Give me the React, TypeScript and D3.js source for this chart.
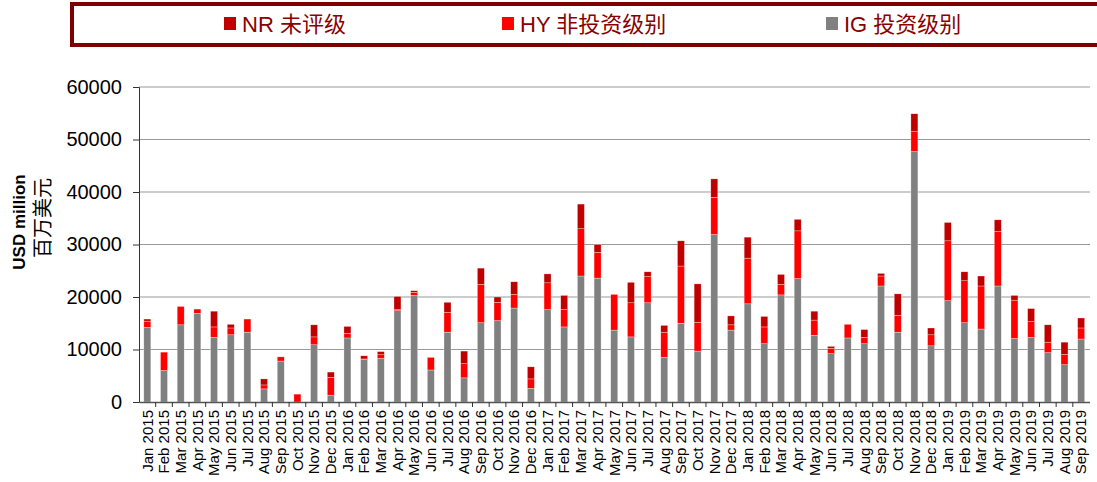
import { useEffect, useRef } from 'react';
import * as d3 from 'd3';

// months Jan 2015 .. Sep 2019
const months = [
  'Jan 2015', 'Feb 2015', 'Mar 2015', 'Apr 2015', 'May 2015', 'Jun 2015', 'Jul 2015', 'Aug 2015', 'Sep 2015', 'Oct 2015', 'Nov 2015', 'Dec 2015',
  'Jan 2016', 'Feb 2016', 'Mar 2016', 'Apr 2016', 'May 2016', 'Jun 2016', 'Jul 2016', 'Aug 2016', 'Sep 2016', 'Oct 2016', 'Nov 2016', 'Dec 2016',
  'Jan 2017', 'Feb 2017', 'Mar 2017', 'Apr 2017', 'May 2017', 'Jun 2017', 'Jul 2017', 'Aug 2017', 'Sep 2017', 'Oct 2017', 'Nov 2017', 'Dec 2017',
  'Jan 2018', 'Feb 2018', 'Mar 2018', 'Apr 2018', 'May 2018', 'Jun 2018', 'Jul 2018', 'Aug 2018', 'Sep 2018', 'Oct 2018', 'Nov 2018', 'Dec 2018',
  'Jan 2019', 'Feb 2019', 'Mar 2019', 'Apr 2019', 'May 2019', 'Jun 2019', 'Jul 2019', 'Aug 2019', 'Sep 2019',
];

const igValues = [
  14200, 6000, 14700, 16900, 12300, 12800, 13300, 2500, 7800, 0, 10900, 1300,
  12200, 8100, 8300, 17400, 20300, 6100, 13300, 4600, 15100, 15500, 17900, 2600,
  17600, 14300, 24000, 23600, 13700, 12400, 18900, 8500, 15000, 9700, 31900, 13700,
  18700, 11100, 20400, 23500, 12700, 9200, 12200, 11100, 22100, 13300, 47700, 10700,
  19300, 15100, 13900, 22100, 12100, 12300, 9400, 7100, 12000,
];

const hyValues = [
  1200, 3500, 3500, 800, 2000, 1300, 2500, 750, 800, 1500, 1500, 3400,
  900, 100, 700, 200, 600, 2400, 3800, 2700, 7300, 3500, 2600, 1800,
  5100, 3300, 9000, 4900, 6800, 6500, 5000, 4800, 10900, 5500, 7100, 1000,
  8700, 3200, 2000, 9100, 2900, 1000, 2600, 1200, 1900, 3200, 3800, 2100,
  11400, 8000, 8200, 10400, 7300, 3000, 2000, 2000, 2100,
];

const nrValues = [
  400, 0, 0, 0, 3000, 700, 0, 1150, 0, 0, 2300, 1000,
  1300, 600, 600, 2500, 300, 0, 1900, 2400, 3100, 1000, 2400, 2300,
  1700, 2700, 4700, 1500, 0, 3900, 900, 1300, 4800, 7300, 3500, 1700,
  4000, 2000, 1900, 2200, 1700, 400, 0, 1500, 500, 4100, 3400, 1300,
  3500, 1700, 1900, 2200, 900, 2500, 3300, 2300, 1900,
];

const yTicks = [0, 10000, 20000, 30000, 40000, 50000, 60000];

const seriesKeys = ['ig', 'hy', 'nr'];
const seriesColors: Record<string, string> = { ig: '#808080', hy: '#FF0000', nr: '#C00000' };
const legendItems = [
  { key: 'nr', label: 'NR 未评级', x: 224 },
  { key: 'hy', label: 'HY 非投资级别', x: 502 },
  { key: 'ig', label: 'IG 投资级别', x: 826 },
];

export default function App() {
  const svgRef = useRef<SVGSVGElement>(null);

  useEffect(() => {
    if (!svgRef.current) return;
    document.body.style.margin = '0';

    const width = 1097;
    const height = 482;
    const margin = { top: 87, right: 7, bottom: 80, left: 139 };

    const svg = d3.select(svgRef.current)
      .attr('width', width)
      .attr('height', height);
    svg.selectAll('*').remove();

    // legend box
    svg.append('rect')
      .attr('x', 74).attr('y', 6)
      .attr('width', 1040).attr('height', 41)
      .attr('fill', '#bbbbbb');
    svg.append('rect')
      .attr('x', 72).attr('y', 4)
      .attr('width', 1040).attr('height', 41)
      .attr('fill', '#fff')
      .attr('stroke', '#7f0000')
      .attr('stroke-width', 4);

    legendItems.forEach(item => {
      svg.append('rect')
        .attr('x', item.x).attr('y', 17)
        .attr('width', 12).attr('height', 13)
        .attr('fill', seriesColors[item.key]);
      svg.append('text')
        .attr('x', item.x + 18).attr('y', 32)
        .attr('font-family', 'Arial, "Liberation Sans", "Noto Sans CJK SC", sans-serif')
        .attr('font-size', 22)
        .attr('fill', '#8a0000')
        .text(item.label);
    });

    const data = months.map((m, i) => ({ month: m, ig: igValues[i], hy: hyValues[i], nr: nrValues[i] }));
    const stacked = d3.stack<any>().keys(seriesKeys)(data);

    const x = d3.scaleBand()
      .domain(months)
      .range([margin.left, width - margin.right - 0.5])
      .paddingInner(0)
      .paddingOuter(0);

    const y = d3.scaleLinear()
      .domain([0, 60000])
      .range([height - margin.bottom, margin.top]);

    // gridlines
    svg.append('g')
      .selectAll('line')
      .data(yTicks.filter(t => t > 0))
      .enter()
      .append('line')
      .attr('x1', margin.left).attr('x2', width - margin.right)
      .attr('y1', d => y(d)).attr('y2', d => y(d))
      .attr('stroke', '#999')
      .attr('stroke-width', 1);

    const barW = 7;
    svg.append('g')
      .selectAll('g')
      .data(stacked)
      .enter()
      .append('g')
      .attr('fill', d => seriesColors[d.key])
      .selectAll('rect')
      .data(d => d)
      .enter()
      .append('rect')
      .attr('x', d => (x(d.data.month) || 0) + x.bandwidth() / 2 - barW / 2)
      .attr('y', d => y(d[1]))
      .attr('width', barW)
      .attr('height', d => Math.max(0, y(d[0]) - y(d[1])))
      .attr('stroke', '#fff')
      .attr('stroke-opacity', 0.6)
      .attr('stroke-width', 0.5);

    // y axis
    const yAxis = svg.append('g')
      .attr('transform', `translate(${margin.left},0)`)
      .call(d3.axisLeft(y).tickValues(yTicks).tickSize(6).tickFormat(d => String(d)));
    yAxis.select('.domain').attr('stroke', '#333');
    yAxis.selectAll('.tick line').attr('stroke', '#333');
    yAxis.selectAll('.tick text')
      .attr('font-family', 'Arial, "Liberation Sans", sans-serif')
      .attr('font-size', 20)
      .attr('fill', '#000')
      .attr('x', -17);

    // x axis
    const xAxis = svg.append('g')
      .attr('transform', `translate(0,${height - margin.bottom})`)
      .call(d3.axisBottom(x).tickSize(0));
    xAxis.select('.domain').attr('stroke', '#555').attr('stroke-width', 1.5);
    xAxis.selectAll('.tick text')
      .attr('font-family', 'Arial, "Liberation Sans", sans-serif')
      .attr('font-size', 15)
      .attr('fill', '#000')
      .attr('text-anchor', 'end')
      .attr('dy', '0.35em')
      .attr('transform', 'translate(0,8) rotate(-90)')
      .attr('x', 0).attr('y', 0);

    // tick marks between bands
    svg.append('g')
      .selectAll('line')
      .data(months.slice(1))
      .enter()
      .append('line')
      .attr('x1', d => x(d) || 0).attr('x2', d => x(d) || 0)
      .attr('y1', height - margin.bottom).attr('y2', height - margin.bottom + 5)
      .attr('stroke', '#333');

    // y axis title
    svg.append('text')
      .attr('transform', `translate(25,222) rotate(-90)`)
      .attr('text-anchor', 'middle')
      .attr('font-family', 'Arial, "Liberation Sans", sans-serif')
      .attr('font-weight', 'bold')
      .attr('font-size', 17)
      .attr('fill', '#000')
      .text('USD million');
    svg.append('text')
      .attr('transform', `translate(50,218) rotate(-90)`)
      .attr('text-anchor', 'middle')
      .attr('font-family', '"Noto Sans CJK SC", sans-serif')
      .attr('font-size', 20)
      .attr('fill', '#000')
      .text('百万美元');
  }, []);

  return (
    <div style={{ width: 1097, height: 482, overflow: 'hidden' }}>
      <svg ref={svgRef} style={{ display: 'block' }}></svg>
    </div>
  );
}
